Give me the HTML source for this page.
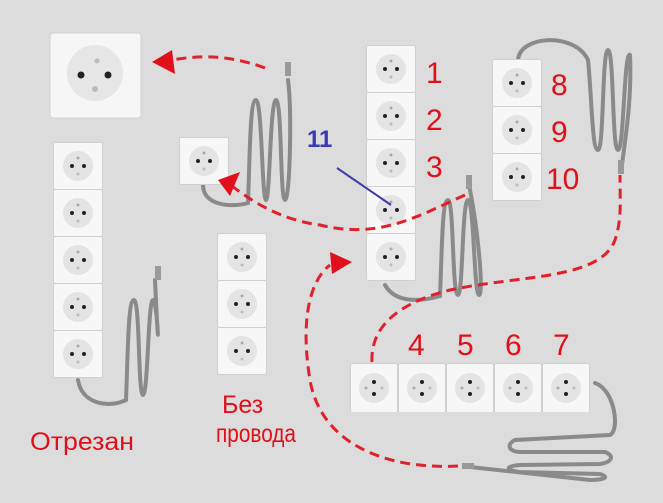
<!DOCTYPE html>
<html><head><meta charset="utf-8"><style>
html,body{margin:0;padding:0;background:#dcdcdc;}
svg{display:block}
text{font-family:"Liberation Sans",sans-serif;}
</style></head><body>
<svg width="663" height="503" viewBox="0 0 663 503" xmlns="http://www.w3.org/2000/svg">
<defs>
<symbol id="s" viewBox="0 0 50 48">
<rect x="0.5" y="0.5" width="49" height="47" rx="2" fill="#f7f7f7" stroke="#d0d0d0"/>
<circle cx="25" cy="24" r="15" fill="#e4e4e4"/>
<circle cx="19" cy="24" r="2" fill="#222"/>
<circle cx="31" cy="24" r="2" fill="#222"/>
<circle cx="25" cy="16" r="1.5" fill="#aaa"/>
<circle cx="25" cy="32" r="1.5" fill="#bbb"/>
</symbol>
<symbol id="h" viewBox="0 0 50 48">
<rect x="0.5" y="0.5" width="47" height="49" rx="2" fill="#f7f7f7" stroke="#d0d0d0"/>
<circle cx="24" cy="25" r="15" fill="#e4e4e4"/>
<circle cx="24" cy="19" r="2" fill="#222"/>
<circle cx="24" cy="31" r="2" fill="#222"/>
<circle cx="16" cy="25" r="1.5" fill="#aaa"/>
<circle cx="32" cy="25" r="1.5" fill="#bbb"/>
</symbol>
</defs>
<rect width="663" height="503" fill="#dcdcdc"/>
<!-- big socket -->
<rect x="50" y="33" width="91" height="85" rx="3" fill="#f6f6f6" stroke="#d2d2d2"/>
<circle cx="95" cy="73" r="28" fill="#e6e6e6"/>
<circle cx="81" cy="75" r="3.5" fill="#222"/><circle cx="108" cy="75" r="3.5" fill="#222"/>
<circle cx="95" cy="89" r="3" fill="#bbb"/><circle cx="97" cy="61" r="2.5" fill="#bbb"/>
<!-- cords -->
<g fill="none" stroke="#8a8a8a" stroke-width="4" stroke-linecap="round">
<path d="M203 185 C203 205 230 208 248 203 C250 150 250 100 256 100 C262 100 262 200 266 200 C270 200 270 100 276 100 C282 100 280 200 285 200 C290 200 292 110 288 80"/>
<path d="M78 380 C82 405 110 408 126 400 C128 350 128 300 134 300 C140 300 138 395 143 395 C148 395 148 300 153 300 C158 300 160 390 155 280"/>
<path d="M385 285 C395 303 420 302 440 296 C442 250 442 200 448 200 C454 200 452 295 458 295 C463 295 462 200 468 200 C474 200 474 295 479 295 C484 295 478 230 470 190"/>
<path d="M518 60 C520 35 575 32 588 60 C592 100 592 150 598 150 C604 150 602 50 608 50 C614 50 612 150 618 150 C624 150 624 50 630 55 C632 100 625 140 622 165"/>
<path d="M595 383 C615 390 620 430 610 435 L515 440 C505 445 510 452 520 452 L605 452 C615 456 612 462 600 464 L520 465 C505 466 505 470 520 472 L600 474 C612 478 600 480 590 480 L470 467"/>
</g>
<g fill="#999"><rect x="285" y="62" width="6" height="14"/><rect x="155" y="266" width="6" height="14"/><rect x="466" y="175" width="6" height="14"/><rect x="618" y="160" width="6" height="14"/><rect x="462" y="463" width="12" height="6"/></g>
<!-- sockets -->
<use href="#s" x="53" y="142" width="50" height="48"/>
<use href="#s" x="53" y="189" width="50" height="48"/>
<use href="#s" x="53" y="236" width="50" height="48"/>
<use href="#s" x="53" y="283" width="50" height="48"/>
<use href="#s" x="53" y="330" width="50" height="48"/>
<use href="#s" x="179" y="137" width="50" height="48"/>
<use href="#s" x="217" y="233" width="50" height="48"/>
<use href="#s" x="217" y="280" width="50" height="48"/>
<use href="#s" x="217" y="327" width="50" height="48"/>
<use href="#s" x="366" y="45" width="50" height="48"/>
<use href="#s" x="366" y="92" width="50" height="48"/>
<use href="#s" x="366" y="139" width="50" height="48"/>
<use href="#s" x="366" y="186" width="50" height="48"/>
<use href="#s" x="366" y="233" width="50" height="48"/>
<use href="#s" x="492" y="59" width="50" height="48"/>
<use href="#s" x="492" y="106" width="50" height="48"/>
<use href="#s" x="492" y="153" width="50" height="48"/>
<use href="#h" x="350" y="362" width="50" height="50"/>
<use href="#h" x="398" y="362" width="50" height="50"/>
<use href="#h" x="446" y="362" width="50" height="50"/>
<use href="#h" x="494" y="362" width="50" height="50"/>
<use href="#h" x="542" y="362" width="50" height="50"/>
<!-- red dashed -->
<g fill="none" stroke="#e0202a" stroke-width="3" stroke-dasharray="10,6">
<path d="M265 68 C230 55 200 55 172 60"/>
<path d="M465 195 C420 215 380 240 320 225 C280 220 250 200 232 186"/>
<path d="M372 362 C370 320 410 300 450 290 C520 275 600 280 615 240 C622 220 620 200 620 175"/>
<path d="M458 466 C380 470 320 440 310 380 C300 320 310 280 330 265"/>
</g>
<g fill="#e0101a">
<polygon points="152,62 172,50 175,74"/>
<polygon points="218,180 240,172 230,196"/>
<polygon points="352,262 330,252 332,274"/>
</g>
<!-- blue -->
<line x1="337" y1="168" x2="391" y2="205" stroke="#3c3caa" stroke-width="2"/>
<text x="307" y="147" font-size="24" font-weight="bold" fill="#3a3ab8">11</text>
<g fill="#e0101a" font-size="30">
<text x="426" y="83">1</text><text x="426" y="130">2</text><text x="426" y="177">3</text>
<text x="551" y="95">8</text><text x="551" y="142">9</text><text x="546" y="189">10</text>
<text x="408" y="355">4</text><text x="457" y="355">5</text><text x="505" y="355">6</text><text x="553" y="355">7</text>
</g>
<g fill="#e0101a" font-size="25">
<text x="30" y="450" textLength="104" lengthAdjust="spacingAndGlyphs">Отрезан</text>
<text x="222" y="413">Без</text>
<text x="216" y="442" textLength="80" lengthAdjust="spacingAndGlyphs">провода</text>
</g>
</svg>
</body></html>
